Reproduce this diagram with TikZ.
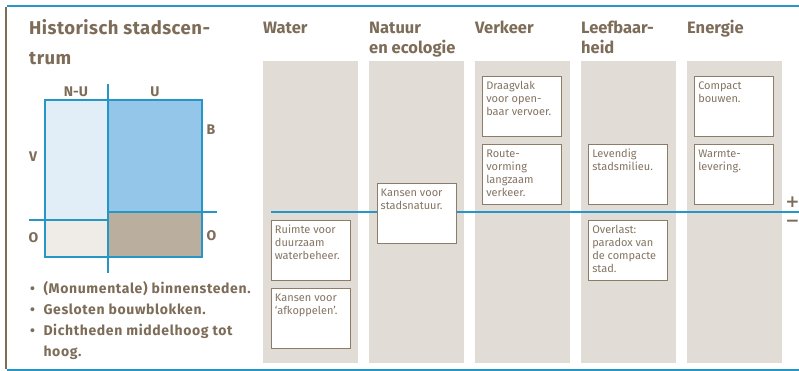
\documentclass[tikz,border=0pt]{standalone}
\usepackage{fontspec}
\setmainfont{Fira Sans}
\newfontfamily\bulfont[LetterSpace=4.5]{Fira Sans}
\newfontfamily\ttlfont[LetterSpace=2.5]{Fira Sans}
\newfontfamily\pmfont{DejaVu Sans}
\definecolor{blueline}{RGB}{38,150,198}
\definecolor{brn}{RGB}{125,108,88}
\definecolor{boxbrn}{RGB}{140,124,104}
\definecolor{boxtxt}{RGB}{132,116,98}
\definecolor{colgray}{RGB}{225,220,213}
\definecolor{lblue}{RGB}{225,238,248}
\definecolor{mblue}{RGB}{148,198,234}
\definecolor{lbeige}{RGB}{239,235,230}
\definecolor{taupe}{RGB}{186,175,159}
\newcommand\boxtext[1]{\parbox[t][54pt][t]{72pt}{\raggedright\rule{0pt}{10pt}#1}}
\newcommand\bulitem{\makebox[13.3pt][l]{•}}
\begin{document}
\begin{tikzpicture}[x=1pt,y=-1pt,
  colst/.style={fill=colgray,draw=none},
  hdr/.style={anchor=base west,inner sep=0,text=brn,font=\fontsize{16.5}{20}\selectfont\bfseries},
  ttl/.style={anchor=base west,inner sep=0,text=brn,font=\ttlfont\fontsize{18.5}{22}\selectfont\bfseries},
  bul/.style={anchor=base west,inner sep=0,text=brn,font=\bulfont\fontsize{14}{16}\selectfont\bfseries},
  lab/.style={anchor=base west,inner sep=0,text=brn,font=\fontsize{14}{16}\selectfont\bfseries},
  pm/.style={inner sep=0,text=brn,font=\pmfont\fontsize{17}{17}\selectfont\bfseries},
  bx/.style={draw=boxbrn,line width=0.9pt,fill=white,anchor=north west,inner xsep=3.5pt,inner ysep=3pt,text=boxtxt,font=\fontsize{11}{13}\selectfont},
  bline/.style={draw=blueline,line width=1.7pt},
  dline/.style={draw=blueline,line width=2pt}]
\useasboundingbox (0,0) rectangle (799,371);
\fill[white] (0,0) rectangle (799,371);
% frame
\draw[bline] (7,5.8) -- (799,5.8);
\draw[bline] (7,370) -- (799,370);
\draw[draw=brn,line width=2pt] (5.5,7) -- (5.5,368.5);
% title
\node[ttl] (t1) at (29,34.3) {Historisch stadscen-};
\node[ttl] (t2) at (29,65) {trum};
% quadrant diagram
\fill[lblue] (45,100) rectangle (107.7,220);
\fill[mblue] (107.7,100) rectangle (201.7,211.7);
\fill[lbeige] (45,220) rectangle (107.7,257.3);
\fill[taupe] (107.7,211.7) rectangle (201.7,257.3);
\draw[dline] (45,100) rectangle (201.7,257.3);
\draw[dline] (107.7,84.3) -- (107.7,272.7);
\draw[dline] (29,220) -- (107.7,220);
\draw[dline] (107.7,211.7) -- (217.3,211.7);
\node[lab,anchor=base] (nu) at (76,96.7) {N-U};
\node[lab,anchor=base] (u) at (155,96.7) {U};
\node[lab] (b) at (206.5,135) {B};
\node[lab] (v) at (29,161.7) {V};
\node[lab] (ol) at (28.5,242.3) {O};
\node[lab] (or) at (206.5,240.5) {O};
% bullets
\node[bul] (b1) at (30,293.5) {\bulitem(Monumentale) binnensteden.};
\node[bul] (b2) at (30,314.5) {\bulitem Gesloten bouwblokken.};
\node[bul] (b3) at (30,335.5) {\bulitem Dichtheden middelhoog tot};
\node[bul] (b4) at (43.3,356.5) {hoog.};
% column headers
\node[hdr] (h1) at (263,33.3) {Water};
\node[hdr] (h2a) at (369,33.3) {Natuur};
\node[hdr] (h2b) at (369,53.3) {en ecologie};
\node[hdr] (h3) at (475,33.3) {Verkeer};
\node[hdr] (h4a) at (581,33.3) {Leefbaar-};
\node[hdr] (h4b) at (581,53.3) {heid};
\node[hdr] (h5) at (687,33.3) {Energie};
% columns
\foreach \cx/\nm in {263/c1,369/c2,475/c3,581/c4,687/c5}
  \path[colst] (\cx,61) rectangle ++(95,302);
% plus/minus line
\draw[bline] (271,212.3) -- (799,212.3);
\node[pm] (plus) at (792.5,202.2) {+};
\node[pm] (minus) at (792.5,223.3) {−};
% boxes
\node[bx] (w1) at (271,220.3) {\boxtext{Ruimte voor\\duurzaam\\waterbeheer.}};
\node[bx] (w2) at (271,288.3) {\boxtext{Kansen voor\\‘afkoppelen’.}};
\node[bx] (n1) at (376.7,182.7) {\boxtext{Kansen voor\\stadsnatuur.}};
\node[bx] (v1) at (482.3,76) {\boxtext{Draagvlak\\voor open-\\baar vervoer.}};
\node[bx] (v2) at (482.3,144.3) {\boxtext{Route-\\vorming\\langzaam\\verkeer.}};
\node[bx] (l1) at (588.3,144.3) {\boxtext{Levendig\\stadsmilieu.}};
\node[bx] (l2) at (588.3,220.3) {\boxtext{Overlast:\\paradox van\\de compacte\\stad.}};
\node[bx] (e1) at (694.3,76) {\boxtext{Compact\\bouwen.}};
\node[bx] (e2) at (694.3,144.3) {\boxtext{Warmte-\\levering.}};
\end{tikzpicture}
\end{document}
